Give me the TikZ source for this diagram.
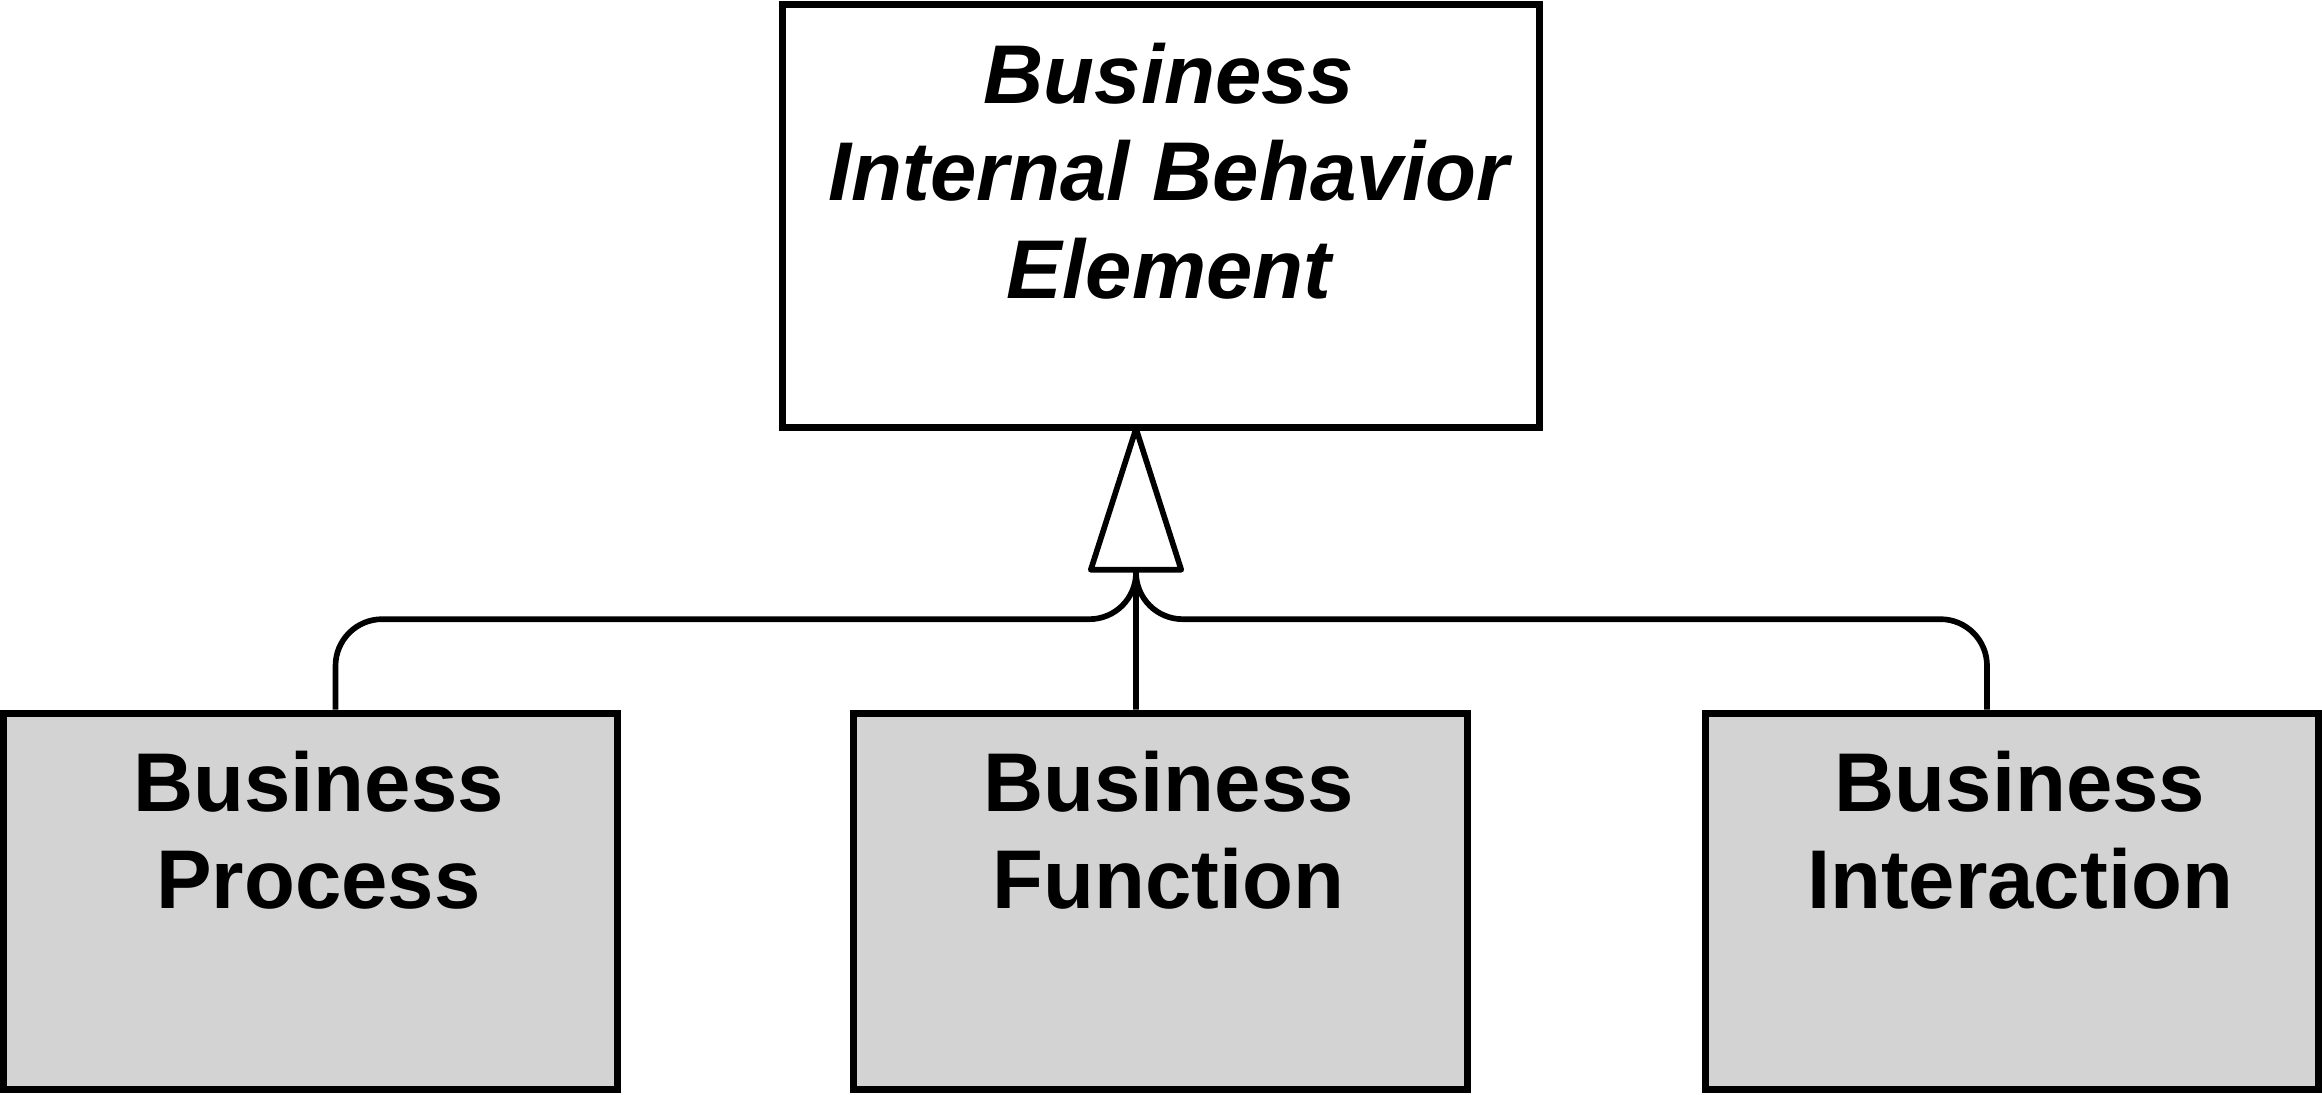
\documentclass[tikz,border=0pt]{standalone}
\usepackage{fontspec}
\setmainfont{Liberation Sans}
\usepackage{tikz}
\usetikzlibrary{arrows.meta}
\definecolor{boxgray}{RGB}{211,211,211}

\begin{document}
\begin{tikzpicture}[x=0.3pt, y=-0.3pt,
        element/.style={shape=rectangle, draw=black, line width=2.1pt, minimum width=184pt, minimum height=113pt, inner sep=0pt},
        elemtext/.style={anchor=north, align=center, inner sep=0pt, font=\fontsize{25}{29.3}\selectfont\bfseries},
        conn/.style={draw=black, line width=1.7pt}]
            \useasboundingbox (0,0) rectangle (2322,1094);

            \node[element, fill=white, minimum width=227pt, minimum height=127pt] (BIBE) at (1161, 216) {};
            \node[element, fill=boxgray] (BP) at (310.5, 901.5) {};
            \node[element, fill=boxgray] (BF) at (1160.5, 901.5) {};
            \node[element, fill=boxgray] (BI) at (2012, 901.5) {};

            \node[elemtext, font=\fontsize{25}{29.3}\selectfont\bfseries\itshape] (BIBEtext) at ([xshift=2.4pt, yshift=-12.4pt]BIBE.north) {Business\\Internal Behavior\\Element};
            \node[elemtext] (BPtext) at ([xshift=2.4pt, yshift=-12.1pt]BP.north) {Business\\Process};
            \node[elemtext] (BFtext) at ([xshift=2.4pt, yshift=-12.1pt]BF.north) {Business\\Function};
            \node[elemtext] (BItext) at ([xshift=2.4pt, yshift=-12.1pt]BI.north) {Business\\Interaction};

            \coordinate (hub) at ([xshift=-7.5pt, yshift=-42.3pt]BIBE.south);

            \draw [conn, shorten >=-1.6pt, -{Triangle[open, round, length=46pt, width=29pt, line width=1.7pt]}] ([xshift=-7.35pt]BF.north) -- ([xshift=-7.5pt]BIBE.south);
            \draw [conn, rounded corners=14pt] ([xshift=7.5pt]BP.north) |- ([yshift=-14.1pt]hub) -- (hub);
            \draw [conn, rounded corners=14pt] ([xshift=-7.5pt]BI.north) |- ([yshift=-14.1pt]hub) -- (hub);
        \end{tikzpicture}
\end{document}
